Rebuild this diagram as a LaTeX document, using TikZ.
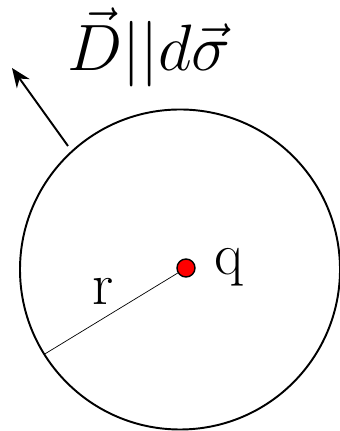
\documentclass[tikz,border=0pt]{standalone}
\usepackage{amsmath,amssymb}
\usepackage{tikz}
\usetikzlibrary{positioning,arrows.meta,calc}

\tikzset{
    bigtext/.style={font=\fontsize{34}{40}\selectfont, inner sep=0pt},
    bigmath/.style={font=\Huge, scale=1.5, inner sep=0pt},
    sphere/.style={draw=black, line width=1.1pt},
    charge/.style={circle, draw=black, fill=red, line width=0.8pt, minimum size=0.36cm, inner sep=0pt}
}

\begin{document}
\begin{tikzpicture}[x=0.02cm, y=0.02cm]
    \useasboundingbox (0,0) rectangle (340,431);

    % 1. Gauss surface
    \coordinate (centre) at (180,161.5);
    \draw[sphere] (centre) circle[radius=160];

    % 2. Radius and charge
    \node[charge] (q) at (186,163) {};
    \coordinate (rim) at ($(centre)+(212:160)$);
    \draw[line width=0.4pt] (q) -- (rim);
    \node[bigtext, anchor=base] (qlabel) at (229,156) {q};
    \node[bigtext, anchor=base] (rlabel) at (103,126) {r};

    % 3. Normal vector
    \coordinate (foot) at (68,285);
    \coordinate (tip) at (12,363);
    \draw[-{Stealth[length=11pt,width=9pt]}, line width=1.1pt] (foot) -- (tip);
    \node[bigmath, anchor=base] (dlabel) at (149,360) {$\vec{D}||d\vec{\sigma}$};
\end{tikzpicture}
\end{document}
